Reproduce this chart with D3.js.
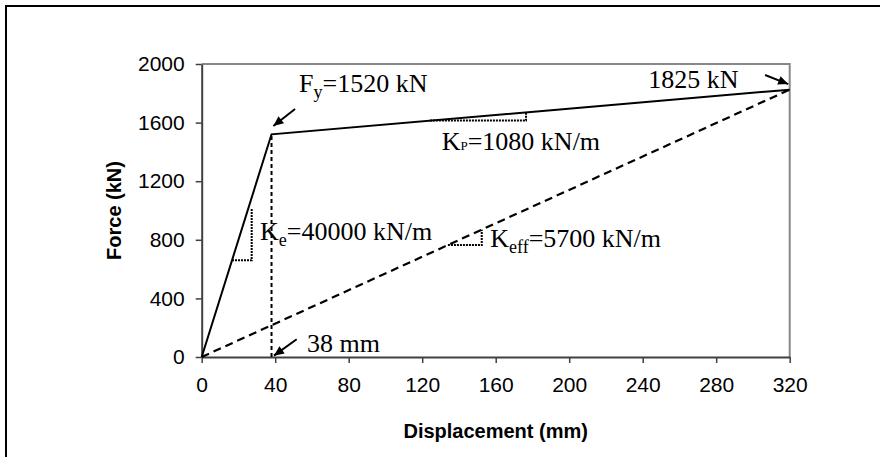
<!DOCTYPE html>
<html>
<head>
<meta charset="utf-8">
<script src="https://cdn.jsdelivr.net/npm/d3@7"></script>
<style>
  body { margin: 0; background: #fff; }
  .tick text { font-family: "Liberation Sans", Arial, sans-serif; font-size: 21px; fill: #000; }
  .title { font-family: "Liberation Sans", Arial, sans-serif; font-size: 20px; font-weight: bold; }
  .note { font-family: "Liberation Serif", "Times New Roman", serif; font-size: 26px; fill: #000; }
</style>
</head>
<body>
<div id="chart"></div>
<script>
// force-displacement data (mm, kN)
const bilinearX = [0, 38, 320];
const bilinearY = [0, 1520, 1825];
const effectiveX = [0, 320];
const effectiveY = [0, 1825];
const yieldDisp = 38;
const yieldForce = 1520;

const xTicks = [0, 40, 80, 120, 160, 200, 240, 280, 320];
const yTicks = [0, 400, 800, 1200, 1600, 2000];

// slope triangles: [x start, x end, force base, force top]
const triKe = [16.5, 27.2, 660, 1015];
const triKp = [124.2, 176.5, 1614, 1670];
const triKeff = [134, 152.4, 764, 869];

let width = 880, height = 457;
let margin = { left: 201.7, right: 90.3, top: 64, bottom: 100 };

let x = d3.scaleLinear().domain([0, 320]).range([margin.left, width - margin.right]);
let y = d3.scaleLinear().domain([0, 2000]).range([height - margin.bottom, margin.top]);

let svg = d3.select("#chart").append("svg")
  .attr("width", width)
  .attr("height", height);

// outer frame, runs off the picture on the right and bottom
svg.append("rect")
  .attr("x", 6).attr("y", 6)
  .attr("width", 900).attr("height", 500)
  .attr("fill", "none")
  .attr("stroke", "#000")
  .attr("stroke-width", 2);

let defs = svg.append("defs");
defs.append("marker")
  .attr("id", "arrow")
  .attr("viewBox", "0 -5 10 10")
  .attr("refX", 10).attr("refY", 0)
  .attr("markerWidth", 11).attr("markerHeight", 10)
  .attr("markerUnits", "userSpaceOnUse")
  .attr("orient", "auto")
  .append("path")
  .attr("d", "M0,-4.5L10,0L0,4.5Z")
  .attr("fill", "#000");

// plot box top and right edges
svg.append("path")
  .attr("d", `M${x(0)},${y(2000)}H${x(320)}V${y(0)}`)
  .attr("fill", "none")
  .attr("stroke", "#888")
  .attr("stroke-width", 2);

// axes
let gx = svg.append("g")
  .attr("transform", `translate(0,${y(0)})`)
  .call(d3.axisBottom(x).tickValues(xTicks).tickFormat(d3.format("d"))
    .tickSize(6).tickPadding(14).tickSizeOuter(0));
let gy = svg.append("g")
  .attr("transform", `translate(${x(0)},0)`)
  .call(d3.axisLeft(y).tickValues(yTicks).tickFormat(d3.format("d"))
    .tickSize(6).tickPadding(11).tickSizeOuter(0));

[gx, gy].forEach(g => {
  g.select(".domain").attr("stroke", "#404040").attr("stroke-width", 2);
  g.selectAll(".tick line").attr("stroke", "#404040").attr("stroke-width", 1.5);
});

svg.append("text")
  .attr("class", "title")
  .attr("x", (x(0) + x(320)) / 2)
  .attr("y", 438)
  .attr("text-anchor", "middle")
  .text("Displacement (mm)");

svg.append("text")
  .attr("class", "title")
  .attr("transform", `translate(121,${(y(0) + y(2000)) / 2}) rotate(-90)`)
  .attr("text-anchor", "middle")
  .text("Force (kN)");

let line = d3.line().x(d => x(d[0])).y(d => y(d[1]));

// yield line (vertical dashed)
svg.append("path")
  .attr("d", line([[yieldDisp, 0], [yieldDisp, yieldForce]]))
  .attr("fill", "none")
  .attr("stroke", "#000")
  .attr("stroke-width", 2)
  .attr("stroke-dasharray", "4,3");

// effective stiffness line
svg.append("path")
  .attr("d", line(d3.zip(effectiveX, effectiveY)))
  .attr("fill", "none")
  .attr("stroke", "#000")
  .attr("stroke-width", 2.2)
  .attr("stroke-dasharray", "8,5");

// bilinear curve
svg.append("path")
  .attr("d", line(d3.zip(bilinearX, bilinearY)))
  .attr("fill", "none")
  .attr("stroke", "#000")
  .attr("stroke-width", 2);

// slope triangles
[triKe, triKp, triKeff].forEach(t => {
  svg.append("path")
    .attr("d", line([[t[0], t[2]], [t[1], t[2]], [t[1], t[3]]]))
    .attr("fill", "none")
    .attr("stroke", "#000")
    .attr("stroke-width", 2)
    .attr("stroke-dasharray", "2,1");
});

// arrows
let arrows = [
  [[50.8, 1693], [39, 1577]],
  [[306.6, 1925], [319.2, 1863]],
  [[51.7, 121], [39.3, 9]]
];
arrows.forEach(a => {
  svg.append("path")
    .attr("d", line(a))
    .attr("stroke", "#000")
    .attr("stroke-width", 2)
    .attr("marker-end", "url(#arrow)");
});

// annotation text anchored in data units
function note(xv, yv, main, sub, rest, shift, subSize) {
  let t = svg.append("text")
    .attr("class", "note")
    .attr("x", x(xv))
    .attr("y", y(yv));
  t.append("tspan").text(main);
  if (sub) {
    t.append("tspan").attr("dy", shift).attr("font-size", subSize).text(sub);
    t.append("tspan").attr("dy", -shift).text(rest);
  } else if (rest) {
    t.append("tspan").text(rest);
  }
}

note(53, 1811, "F", "y", "=1520 kN", 6, "18px");
note(243, 1836, "1825 kN");
note(130.6, 1413, "K", "P", "=1080 kN/m", 0, "13px");
note(31.7, 799, "K", "e", "=40000 kN/m", 6, "18px");
note(157, 753, "K", "eff", "=5700 kN/m", 6, "18px");
note(57.3, 36, "38 mm");
</script>
</body>
</html>
